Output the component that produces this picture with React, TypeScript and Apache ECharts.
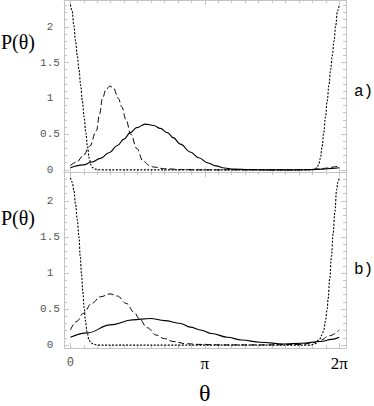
import React, { useEffect, useRef } from "react";
import * as echarts from "echarts";

// ---------- data ----------
// panel a)
const A_DOT_TH = [0, 0.04, 0.08, 0.12, 0.16, 0.2, 0.24, 0.28, 0.32, 0.36, 0.4, 0.44, 0.48, 0.52, 0.58, 0.7, 3.0, 5.58, 5.7, 5.76, 5.8, 5.84, 5.88, 5.92, 5.96, 6.0, 6.04, 6.08, 6.12, 6.16, 6.2, 6.24, 6.283];
const A_DOT_P = [2.31, 2.22, 2.02, 1.8, 1.6, 1.4, 1.18, 0.96, 0.74, 0.52, 0.32, 0.16, 0.07, 0.03, 0.01, 0, 0, 0, 0.01, 0.03, 0.07, 0.16, 0.32, 0.52, 0.74, 0.96, 1.18, 1.4, 1.6, 1.8, 2.02, 2.22, 2.31];

const A_DASH_TH = [0, 0.15, 0.3, 0.45, 0.61, 0.68, 0.75, 0.83, 0.92, 1.0, 1.12, 1.2, 1.3, 1.41, 1.55, 1.7, 1.85, 1.94, 2.2, 2.6, 3.0, 5.4, 5.8, 6.0, 6.15, 6.283];
const A_DASH_P = [0.06, 0.11, 0.2, 0.33, 0.55, 0.78, 1.0, 1.12, 1.17, 1.15, 1.0, 0.88, 0.7, 0.5, 0.3, 0.12, 0.06, 0.04, 0.015, 0.005, 0, 0, 0.01, 0.025, 0.04, 0.06];

const A_SOLID_TH = [0, 0.3, 0.5, 0.7, 0.9, 1.1, 1.25, 1.4, 1.55, 1.75, 1.95, 2.1, 2.27, 2.4, 2.57, 2.8, 3.0, 3.2, 3.4, 3.6, 3.8, 4.2, 4.6, 5.2, 5.6, 5.9, 6.1, 6.283];
const A_SOLID_P = [0.03, 0.07, 0.11, 0.16, 0.24, 0.34, 0.43, 0.52, 0.59, 0.64, 0.62, 0.58, 0.52, 0.45, 0.36, 0.25, 0.17, 0.1, 0.055, 0.025, 0.01, 0.003, 0, 0, 0.003, 0.01, 0.02, 0.03];

// panel b)
const B_DOT_TH = [0, 0.04, 0.08, 0.12, 0.16, 0.2, 0.23, 0.26, 0.29, 0.32, 0.35, 0.39, 0.43, 0.48, 0.55, 0.65, 3.0, 5.6, 5.72, 5.82, 5.88, 5.92, 5.96, 6.0, 6.02, 6.06, 6.1, 6.14, 6.18, 6.22, 6.25, 6.283];
const B_DOT_P = [2.32, 2.26, 2.15, 1.95, 1.74, 1.5, 1.22, 0.98, 0.74, 0.52, 0.34, 0.18, 0.08, 0.03, 0.01, 0, 0, 0, 0.02, 0.08, 0.14, 0.21, 0.33, 0.5, 0.63, 0.92, 1.23, 1.55, 1.85, 2.15, 2.26, 2.32];

const B_DASH_TH = [0, 0.15, 0.3, 0.5, 0.7, 0.93, 1.1, 1.3, 1.5, 1.6, 1.8, 2.0, 2.2, 2.4, 2.7, 3.0, 3.5, 4.5, 5.4, 5.65, 5.85, 6.05, 6.283];
const B_DASH_P = [0.21, 0.33, 0.44, 0.58, 0.67, 0.71, 0.68, 0.58, 0.45, 0.37, 0.24, 0.14, 0.09, 0.05, 0.02, 0.01, 0.003, 0.003, 0.01, 0.03, 0.07, 0.13, 0.21];

const B_SOLID_TH = [0, 0.4, 0.93, 1.45, 1.87, 2.2, 2.57, 2.8, 3.04, 3.3, 3.67, 4.0, 4.44, 5.0, 5.4, 5.85, 6.1, 6.283];
const B_SOLID_P = [0.11, 0.17, 0.28, 0.35, 0.37, 0.34, 0.3, 0.25, 0.21, 0.16, 0.11, 0.07, 0.04, 0.015, 0.025, 0.05, 0.08, 0.11];

// tick labels
const Y_LABELS = [0, 0.5, 1, 1.5, 2];
const X_LABEL_VALUES = [0, Math.PI, 2 * Math.PI];
const X_LABEL_TEXT = ["{m|0}", "{s|π}", "{s|2π}"];

const zip = (a: number[], b: number[]) => a.map((t, i) => [t, b[i]]);

export default function App() {
  const ref = useRef<HTMLDivElement>(null);
  useEffect(() => {
    document.body.style.margin = "0";
    const chart = echarts.init(ref.current!, null, { renderer: "svg" });

    const XMIN = -0.15;
    const XMAX = 6.44;
    const frame = "#c4c4c4";
    const xMinor: number[] = [];
    for (let k = 0; k <= 20; k++) xMinor.push((Math.PI * k) / 10);
    const xMajor = [0, Math.PI, 2 * Math.PI];
    const yMinor: number[] = [];
    for (let k = 0; k <= 23; k++) yMinor.push(+(k * 0.1).toFixed(1));
    const yMajor = Y_LABELS;

    const panels = [
      { top: 0, height: 172, ymin: -0.03, ymax: 2.375 },
      { top: 172, height: 176, ymin: -0.04, ymax: 2.4 },
    ];

    const grid = panels.map((p) => ({
      left: 64,
      right: 28,
      top: p.top,
      height: p.height,
      containLabel: false,
      outerBoundsMode: "none",
    }));

    const xAxis: any[] = [];
    const yAxis: any[] = [];
    panels.forEach((p, g) => {
      const mk = (pos: string, ticks: number[], len: number, showLine: boolean, labels: boolean) => ({
        type: "value",
        gridIndex: g,
        position: pos,
        min: XMIN,
        max: XMAX,
        splitLine: { show: false },
        axisLine: { show: showLine, onZero: false, lineStyle: { color: frame, width: 1 } },
        axisTick: { show: true, inside: true, length: len, customValues: ticks, lineStyle: { color: frame } },
        axisLabel: labels
          ? {
              show: true,
              customValues: X_LABEL_VALUES,
              margin: 6,
              formatter: (v: number) => {
                const i = X_LABEL_VALUES.findIndex((x) => Math.abs(x - v) < 1e-6);
                return i >= 0 ? X_LABEL_TEXT[i] : "";
              },
              rich: {
                m: { fontFamily: "Liberation Mono", fontSize: 12, color: "#555", lineHeight: 18 },
                s: { fontFamily: "Liberation Serif", fontSize: 17, color: "#000", lineHeight: 18 },
              },
            }
          : { show: false },
      });
      xAxis.push(mk("bottom", xMajor, 5, true, g === 1));
      xAxis.push(mk("bottom", xMinor, 3, false, false));
      xAxis.push(mk("top", xMajor, 5, true, false));
      xAxis.push(mk("top", xMinor, 3, false, false));

      const mky = (pos: string, ticks: number[], len: number, showLine: boolean, labels: boolean) => ({
        type: "value",
        gridIndex: g,
        position: pos,
        min: p.ymin,
        max: p.ymax,
        splitLine: { show: false },
        axisLine: { show: showLine, onZero: false, lineStyle: { color: frame, width: 1 } },
        axisTick: { show: true, inside: true, length: len, customValues: ticks, lineStyle: { color: frame } },
        axisLabel: labels
          ? {
              show: true,
              customValues: Y_LABELS,
              margin: 14,
              align: "center",
              fontFamily: "Liberation Mono",
              fontSize: 11,
              color: "#555",
              formatter: (v: number) => String(v),
            }
          : { show: false },
      });
      yAxis.push(mky("left", yMajor, 5, true, true));
      yAxis.push(mky("left", yMinor, 3, false, false));
      yAxis.push(mky("right", yMajor, 5, true, false));
      yAxis.push(mky("right", yMinor, 3, false, false));
    });

    const line = (g: number, th: number[], p: number[], type: any, width: number) => ({
      type: "line",
      xAxisIndex: g * 4,
      yAxisIndex: g * 4,
      data: zip(th, p),
      showSymbol: false,
      smooth: 0.4,
      smoothMonotone: "x",
      clip: true,
      lineStyle: { color: "#000", width, type },
      z: 3,
    });

    const series = [
      line(0, A_SOLID_TH, A_SOLID_P, "solid", 1.1),
      line(0, A_DASH_TH, A_DASH_P, [6, 3], 1),
      line(0, A_DOT_TH, A_DOT_P, [2, 1.5], 1.1),
      line(1, B_SOLID_TH, B_SOLID_P, "solid", 1.1),
      line(1, B_DASH_TH, B_DASH_P, [6, 3], 1),
      line(1, B_DOT_TH, B_DOT_P, [2, 1.5], 1.1),
    ];

    const serif = "Liberation Serif";
    const mono = "Liberation Mono";
    chart.setOption({
      animation: false,
      backgroundColor: "#fff",
      grid,
      xAxis,
      yAxis,
      series,
      graphic: [
        { type: "text", left: 1, top: 32, style: { text: "P(θ)", font: `20px "${serif}"`, fill: "#000" } },
        { type: "text", left: 1, top: 208, style: { text: "P(θ)", font: `20px "${serif}"`, fill: "#000" } },
        { type: "text", left: 354, top: 84, style: { text: "a)", font: `16px "${mono}"`, fill: "#000" } },
        { type: "text", left: 354, top: 262, style: { text: "b)", font: `16px "${mono}"`, fill: "#000" } },
        { type: "text", left: 199, top: 381, style: { text: "θ", font: `24px "${serif}"`, fill: "#000" } },
      ],
    });
    return () => chart.dispose();
  }, []);
  return <div ref={ref} style={{ width: 374, height: 406 }} />;
}
